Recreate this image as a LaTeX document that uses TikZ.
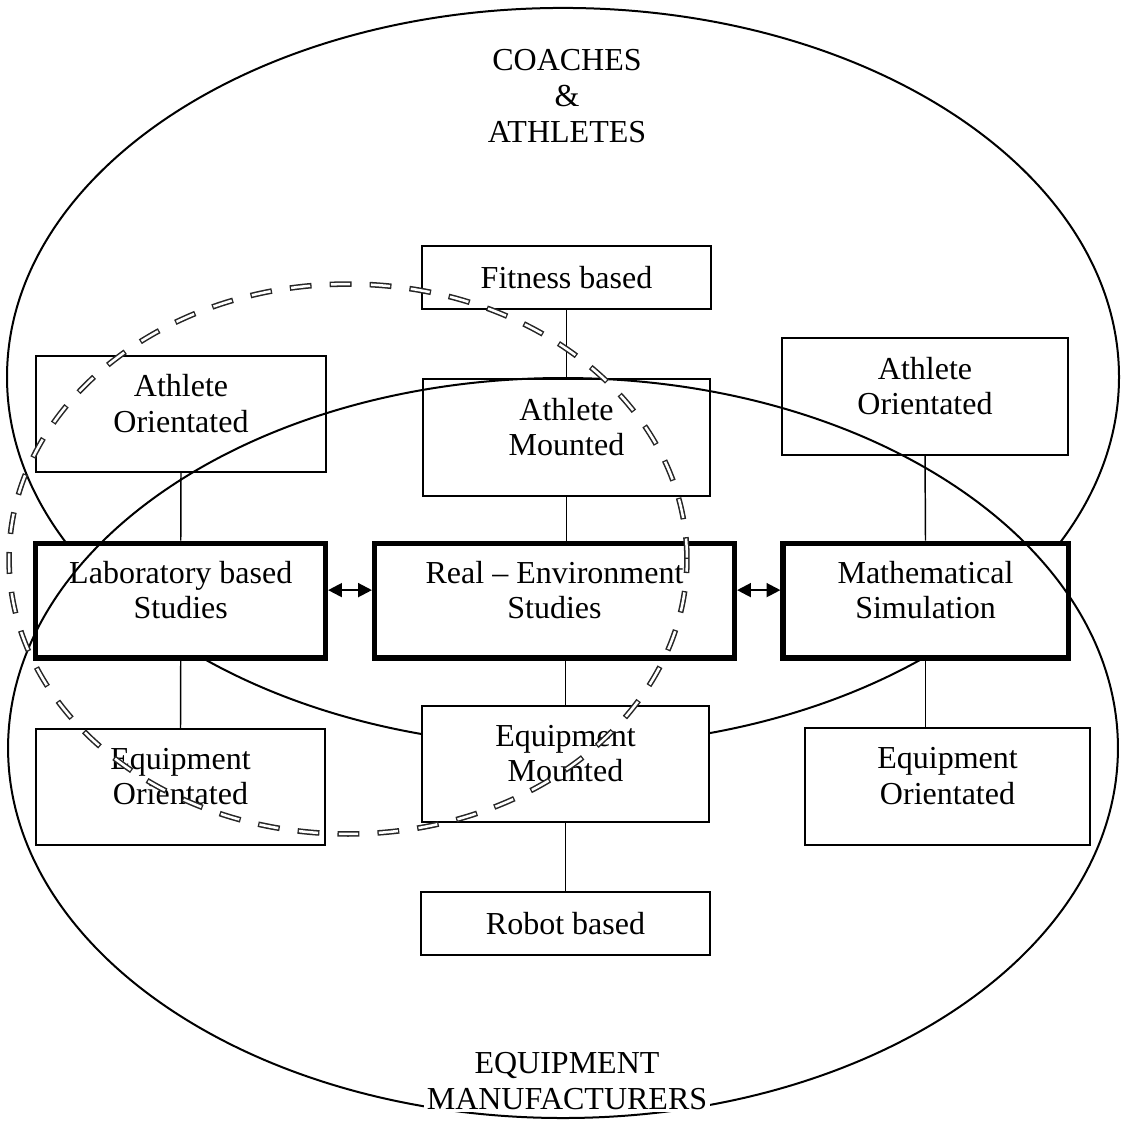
\documentclass[tikz,border=0pt]{standalone}
\usepackage{fontspec}
\setmainfont{Liberation Serif}
\usetikzlibrary{arrows.meta, positioning}

\tikzset{
  box/.style={draw=black, fill=white, line width=0.55pt, inner sep=0pt,
    align=center, font=\fontsize{12}{13.3}\selectfont},
  studybox/.style={box, line width=1.9pt},
  twolines/.style={text depth=8pt},
  link/.style={line width=0.55pt},
  biarrow/.style={line width=0.8pt,
    {Triangle[length=5.2pt,width=5.2pt]}-{Triangle[length=5.2pt,width=5.2pt]}},
  group/.style={line width=0.75pt},
  grouplabel/.style={fill=white, inner sep=1pt, align=center,
    font=\fontsize{12}{13.4}\selectfont},
  overlapout/.style={draw=black!85, line width=2.1pt, dash pattern=on 8.2pt off 6.8pt},
  overlapin/.style={draw=white, line width=0.95pt,
    dash pattern=on 7.2pt off 7.8pt, dash phase=14.5pt},
}

\begin{document}
\begin{tikzpicture}[x=0.375pt, y=-0.375pt]
\useasboundingbox (0,0) rectangle (1123,1122);

% coaches & athletes (behind the boxes)
\draw[group] (563,377) ellipse [x radius=208.5pt, y radius=138.4pt];

% middle column
\node[box, minimum width=108.4pt, minimum height=23.6pt] (fitness) at (566.5,277.5) {Fitness based};
\node[box, twolines, minimum width=107.6pt, minimum height=43.9pt] (athmount) at (566.5,437.5) {Athlete\\Mounted};
\node[studybox, twolines, minimum width=135pt, minimum height=43.1pt] (realenv) at (554.5,600.5) {Real -- Environment\\Studies};
\node[box, twolines, minimum width=107.6pt, minimum height=43.5pt] (eqmount) at (565.5,764) {Equipment\\Mounted};
\node[box, minimum width=108.4pt, minimum height=23.6pt] (robot) at (565.5,923.5) {Robot based};

% left column
\node[box, twolines, minimum width=108.75pt, minimum height=43.5pt] (athorL) at (181,414) {Athlete\\Orientated};
\node[studybox, twolines, minimum width=108.6pt, minimum height=43.1pt] (lab) at (180.75,600.5) {Laboratory based\\Studies};
\node[box, twolines, minimum width=108.4pt, minimum height=43.5pt] (eqorL) at (180.5,787) {Equipment\\Orientated};

% right column
\node[box, twolines, minimum width=107.25pt, minimum height=43.9pt] (athorR) at (925,396.5) {Athlete\\Orientated};
\node[studybox, twolines, minimum width=106.9pt, minimum height=43.1pt] (math) at (925.5,600.5) {Mathematical\\Simulation};
\node[box, twolines, minimum width=106.9pt, minimum height=43.9pt] (eqorR) at (947.5,786.5) {Equipment\\Orientated};

% connectors
\draw[link] (fitness.south) -- (athmount.north);
\draw[link] (athmount.south) -- (athmount.south |- realenv.north);
\draw[link] (eqmount.north) -- (eqmount.north |- realenv.south);
\draw[link] (eqmount.south) -- (robot.north);
\draw[link] (athorL.south) -- (lab.north);
\draw[link] (lab.south) -- (eqorL.north);
\draw[link] (athorR.south) -- (math.north);
\draw[link] (math.south) -- (math.south |- eqorR.north);

\draw[biarrow] ([yshift=3.9pt]lab.east) -- ([yshift=3.9pt]realenv.west);
\draw[biarrow] ([yshift=3.9pt]realenv.east) -- ([yshift=3.9pt]math.west);

% equipment manufacturers
\draw[group] (563,748) ellipse [x radius=208.1pt, y radius=138.75pt];

% overlap of the two groups
\draw[overlapout] (348,559) ellipse [x radius=127.1pt, y radius=103.1pt];
\draw[overlapin] (348,559) ellipse [x radius=127.1pt, y radius=103.1pt];

\node[grouplabel] (coaches) at (567,96) {COACHES\\\&\\ATHLETES};
\node[grouplabel] (makers) at (567,1081) {EQUIPMENT\\MANUFACTURERS};
\end{tikzpicture}
\end{document}
